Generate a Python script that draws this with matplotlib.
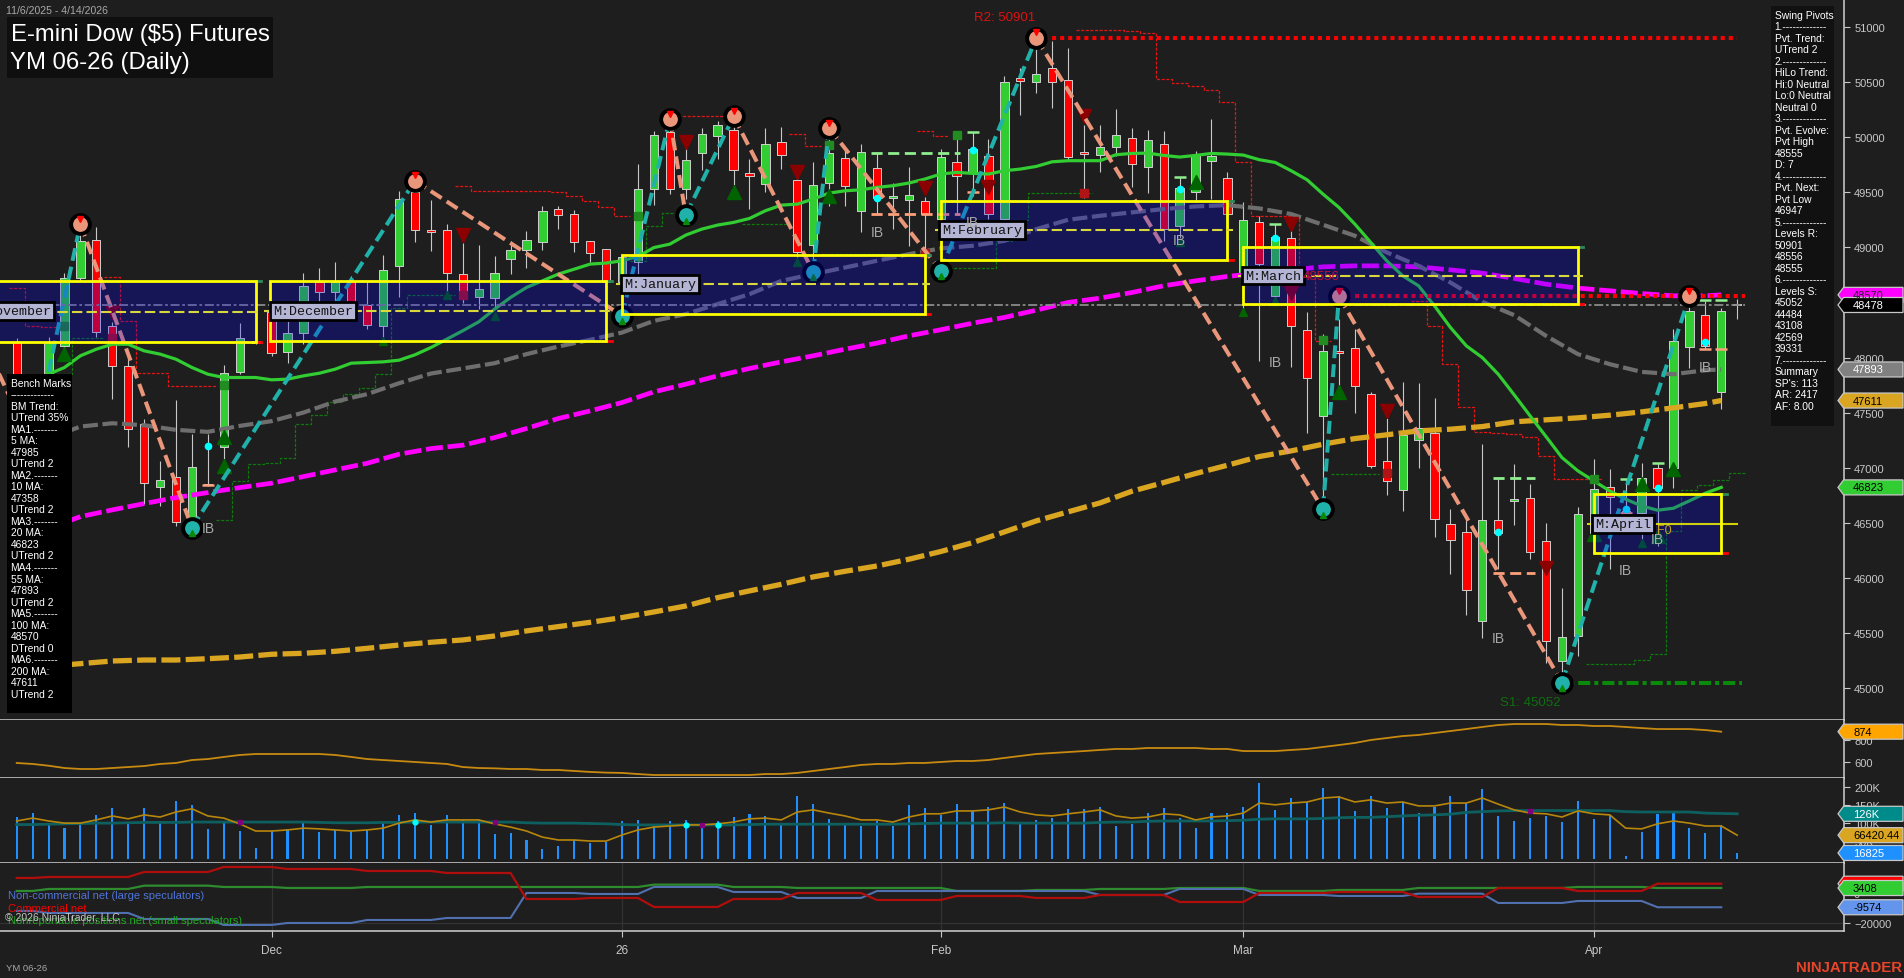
import numpy as np
import matplotlib
matplotlib.use("Agg")
import matplotlib.pyplot as plt
from matplotlib.patches import Rectangle, Polygon

plt.rcParams['font.family'] = ['Liberation Sans', 'DejaVu Sans']

W, H = 1904, 979
BG = "#1E1E1E"

# --- candles, one entry per daily bar ---
opens = [48138,47654,47835,48107,48725,49070,48283,47926,47396,46831,46921,46534,46850,47191,47871,48150,48410,48047,48228,48682,
         48598,48697,48477,48289,48833,49499,49148,49154,48755,48552,48537,48894,48979,49045,49345,49299,49060,48985,48682,48864,
         49529,50050,49529,49856,50014,50062,49675,49572,49953,49608,49021,49584,49811,49333,49717,49445,49433,49417,49257,49777,
         49681,49826,49257,50534,50498,50625,50516,49856,49841,49914,49995,49726,49941,49197,49499,49781,49632,48743,49227,48561,
         49082,48247,47472,48056,48089,47666,47067,46800,47254,47321,46495,46422,45611,46531,46704,46731,46340,45248,45475,46413,
         46831,46600,46594,47003,47003,48098,48383,47684,48490]
closes = [47835,47805,48138,48719,49054,48234,47920,47357,46867,46894,46513,47012,46843,47865,48174,48132,48038,48228,48646,48598,
          48688,48486,48298,48791,49436,49160,49142,48767,48546,48619,48764,48979,49063,49327,49296,49045,48948,48682,48909,49529,
          50020,49529,49790,50029,50110,49705,49650,49935,49841,48961,49563,49856,49560,49862,49448,49463,49472,49306,49817,49644,
          49892,49299,50504,50513,50570,50504,49817,49850,49908,50017,49753,49971,49166,49539,49841,49826,49303,49245,48849,49091,
          48283,47811,48065,48038,47744,47018,46882,47297,47366,46540,46346,45893,46531,46413,46722,46238,45433,45469,46586,46812,
          46737,46594,46909,46821,48147,48419,48107,48425,48478]
highs = [48174,47835,48192,48767,49166,49181,48325,48047,47442,47064,47614,47306,47306,47932,48310,48168,48455,48334,48764,48809,
         48864,48743,48682,48930,49514,49590,49430,49212,49036,49021,48924,49060,49145,49372,49372,49339,49060,48985,48924,49756,
         50059,50225,49953,50083,50150,50165,49802,50080,50092,49741,49771,50029,49899,49938,49853,49584,49726,49454,49892,50056,
         50044,49983,50552,50625,50800,50876,50806,50110,50110,50256,50083,50065,50053,49635,49871,50165,49684,49408,49287,49212,
         49257,48410,48213,48350,48259,47684,47451,47775,47769,47638,46625,46570,47215,46903,47033,46852,46498,45914,46646,47085,
         46988,46897,47048,47042,48259,48516,48516,48455,48531]
lows = [47805,47623,47805,48062,48697,48192,47623,47188,46670,46655,46474,46504,46837,47079,47850,48122,48011,47956,48122,48470,
        48516,48470,48259,48192,48546,49045,48970,48591,48495,48440,48455,48758,48818,48979,49166,48961,48864,48634,48455,48682,
        49387,49481,49439,49705,49802,49566,49348,49505,49711,48909,48894,49378,49378,49136,49303,49166,49015,48939,49166,49303,
        49469,49257,49227,50201,50401,50268,49787,49445,49681,49832,49545,49493,49060,49015,49408,49439,49287,48395,47971,48486,
        47911,47321,46716,47744,47502,47003,46752,46610,47003,46374,46035,45663,45454,46080,46480,46171,45233,45112,45294,46383,
        46080,46588,46353,46292,46821,47902,48077,47533,48350]

# --- moving averages ---
ma_idx = [3] + list(range(4, 107, 2)) + [107]
ma200 = [45212,45224,45248,45257,45257,45269,45284,45309,45318,45336,45363,45393,45418,45439,45475,45521,45560,45599,45642,45693,
         45747,45823,45884,45944,46011,46062,46110,46171,46241,46322,46419,46519,46601,46682,46788,46867,46949,47024,47103,47154,
         47215,47266,47300,47336,47351,47375,47418,47436,47454,47478,47508,47545,47584,47611]
ma100 = [46504,46558,46619,46676,46731,46776,46821,46861,46921,46982,47042,47124,47175,47206,47275,47357,47448,47517,47593,47690,
         47759,47835,47902,47962,48017,48077,48132,48198,48253,48313,48365,48431,48501,48540,48591,48652,48697,48737,48767,48797,
         48824,48833,48833,48824,48797,48767,48719,48667,48631,48607,48582,48561,48561,48570]
ma55 = [47321,47375,47405,47387,47345,47327,47381,47424,47502,47602,47669,47768,47856,47902,47950,48032,48101,48162,48228,48334,
        48395,48486,48576,48697,48758,48818,48879,48939,48991,49015,49060,49166,49251,49287,49318,49348,49372,49384,49354,49303,
        49206,49106,48955,48833,48682,48507,48386,48198,48032,47941,47871,47850,47886,47893]
ma20_start = 2
ma20 = [47850,47911,48017,48077,48122,48122,48062,48032,47986,47911,47850,47820,47820,47820,47799,47805,47835,47859,47896,47950,
        47956,47962,47977,48026,48092,48168,48244,48325,48440,48546,48637,48697,48758,48803,48849,48858,48879,48918,48999,49030,
        49112,49166,49203,49227,49263,49333,49384,49393,49439,49493,49514,49523,49545,49560,49584,49620,49666,49681,49672,49666,
        49696,49711,49735,49777,49787,49787,49787,49841,49853,49856,49835,49820,49835,49853,49847,49838,49796,49771,49696,49614,
        49484,49363,49212,49045,48879,48743,48652,48470,48274,48107,48001,47850,47663,47472,47284,47094,46973,46882,46791,46716,
        46655,46616,46634,46701,46770,46823]

# --- swing pivots ---
swing_idx = [-2,1,4,11,25,38,41,42,45,50,51,58,64,82,83,97,105]
swing_px = [48129,47200,49212,46458,49605,48380,50165,49293,50189,48779,50083,48788,50901,46625,48556,45052,48555]

# --- monthly value areas ---
zone_names = ["M:November","M:December","M:January","M:February","M:March","M:April"]
zone_start = [-10,15.9,38,58,77,99]
zone_end = [15,37,57,76,98,107]
zone_high = [48694,48694,48933,49424,49003,46761]
zone_low = [48144,48153,48395,48888,48486,46226]
zone_mid = [48416,48422,48667,49157,48740,46489]
zone_label_x = [-3.06,15.9,37.9,57.9,76.9,98.9]

# --- stepped trailing stops: (first bar, values) ---
red_steps = [
    (0,[48628,48289,48280]),
    (6,[48728,48334,47865,47865,47744,47744,47744]),
    (28,[49554,49508,49508,49508,49508,49508,49499,49463,49420,49363,49287]),
    (42,[50189,50189,50189]),
    (49,[50026,49923]),
    (57,[50053,50013]),
    (67,[50976,50976,50976,50967,50942,50525,50489,50461,50425,50316,49771,49287,49287,49287,48743,48153]),
    (88,[48516,48283,47947,47548,47330,47321,47306,47284,47109,46903,46903,46903]),
]
green_steps = [
    (3,[47850,48174,48174]),
    (13,[46528,46882,47039,47048,47088,47402,47481,47602,47669,47729,47850,48455,48567,48567,48567]),
    (39,[48879,49197,49309]),
    (46,[49212,49212,49212]),
    (51,[48939,48939,48939,48939,48939,48939]),
    (59,[48809,48809,48809,49060,49251,49490,49490,49490,49490]),
    (83,[46948,46948,46948]),
    (99,[45224,45224,45224,45257,45315,46428,46800,46843,46888,46958]),
]

# --- signal marks ---
tri_dn_idx = [6,28,42,49,57,61,67,80,80,86,96]
tri_dn_px = [48410,49112,49959,49687,49535,49551,50189,48591,49212,47517,46095]
tri_up_idx = [3,13,13,45,51,74,83,99,102,103,104]
tri_up_px = [48032,47018,47281,49499,49469,49590,47690,46398,46852,46383,46988]
tri_small_idx = [23,27,30,49,73,77,79,102]
tri_small_px = [48153,48567,48374,48864,49051,48416,48516,46322]
sq_green_idx = [3,13,39,45,51,59,82,99]
sq_green_px = [48283,47750,49287,50189,49929,50020,48156,46903]
sq_red_idx = [6,28,42,57,67,86]
sq_red_px = [48174,48567,49312,48954,49490,46952]
cyan_idx = [12,54,60,73,79,93,101,103,106]
cyan_px = [47197,49448,49886,49529,49088,46419,46625,46819,48138]
lg_idx = [60,73,79,101,103,105,106,107]
lg_px = [50050,49641,49212,46897,47042,48522,48522,48522]
salmon_idx = [12,60,101,106,107]
salmon_px = [46843,49505,46594,48077,48077]
ib_idx = [12,54,60,73,79,106,93,101,103]
ib_px = [46458,49136,49227,49070,47965,47911,45454,46071,46358]

# --- ATR panel ---
atr = [588,579,563,542,533,533,542,551,560,579,588,615,624,643,661,670,670,670,670,670,
       661,643,624,615,606,597,588,579,551,542,539,533,533,524,524,515,506,500,497,487,
       478,478,478,478,478,478,478,487,487,497,515,533,551,570,579,579,588,588,597,606,
       606,615,634,652,670,679,688,697,707,716,716,725,725,725,725,716,716,697,697,697,
       707,716,734,752,771,798,816,834,844,862,880,898,917,935,944,944,944,935,935,926,
       926,917,907,898,898,898,889,874]

# --- volume panel, thousands ---
volume = [117,128,95,86,98,123,142,100,142,103,162,151,84,100,78,31,78,84,100,75,
          81,78,81,100,123,128,95,123,109,109,70,73,53,28,36,53,45,47,106,109,
          98,106,109,86,106,117,126,120,98,176,153,112,98,92,106,92,151,142,123,153,
          134,145,156,103,109,114,140,140,145,92,98,128,142,114,86,128,128,145,212,137,
          170,159,198,176,134,176,142,159,128,145,176,156,195,120,106,114,120,103,162,112,
          123,8,75,126,128,86,73,95,17]
vol_avg = [106,114,106,100,100,109,120,112,123,117,131,140,120,114,98,78,78,81,86,84,
           81,78,81,86,100,109,103,109,109,109,98,89,78,61,53,53,50,50,67,81,
           89,92,95,95,98,103,112,114,109,131,137,128,120,109,109,103,117,126,126,134,
           134,137,145,131,123,120,126,131,137,120,114,117,126,123,109,117,120,128,156,151,
           156,159,170,173,159,165,156,159,148,148,156,156,170,153,137,128,126,117,134,126,
           123,86,84,98,106,100,92,92,66.42]
vol_slow = [96,96,97,98,99,100,100,101,102,102,102,103,103,103,103,103,103,103,103,102,
            101,101,101,102,102,103,103,103,103,103,103,103,101,100,100,100,99,98,96,95,
            95,95,95,95,95,95,96,97,97,97,97,97,97,97,97,97,98,99,100,100,
            100,100,101,100,100,100,100,100,102,103,103,105,106,106,106,106,107,108,111,112,
            112,112,113,115,116,116,118,120,122,123,125,130,132,134,135,135,135,135,135,135,
            135,132,131,131,131,131,128,127,126]
vol_cyan_idx = [25,42,44]
vol_purple_idx = [14,30,43,95]

# --- weekly commitment of traders net positions ---
cot_weeks = [2,6,5,4,5,5,5,4,4,5,4,5,5,5,4,5,5,5,5,5,5,5,5]
cot_comm = [10176,10850,14224,17600,16248,14900,13549,-4000,-3320,-9390,-4000,55,-4670,-1970,-3320,-1300,-6020,55,730,-2640,3430,1400,6316]
cot_large = [-12090,-13440,-17490,-21535,-20190,-18160,-16810,55,-620,4100,730,-3320,1400,1400,1400,-1300,2750,-1300,-1970,-400,-6690,-5340,-9574]
cot_small = [1400,2750,5000,4100,3430,4100,4100,4100,4100,5680,4100,3430,3430,1400,2080,2750,3430,1400,2080,3430,3430,4100,3408]

month_idx = [16,38,58,77,99]
month_lbl = ["Dec","26","Feb","Mar","Apr"]

swing_text = ["Swing Pivots","1.-------------","Pvt. Trend:","UTrend 2","2.-------------","HiLo Trend:","Hi:0 Neutral",
              "Lo:0 Neutral","Neutral 0","3.-------------","Pvt. Evolve:","Pvt High","48555","D: 7","4.-------------",
              "Pvt. Next:","Pvt Low","46947","5.-------------","Levels R:","50901","48556","48555","6.-------------",
              "Levels S:","45052","44484","43108","42569","39331","7.-------------","Summary","SP's: 113","AR: 2417","AF: 8.00"]
bench_text = ["Bench Marks","-------------","BM Trend:","UTrend 35%","MA1.-------","5 MA:","47985","UTrend 2","MA2.-------",
              "10 MA:","47358","UTrend 2","MA3.-------","20 MA:","46823","UTrend 2","MA4.-------","55 MA:","47893","UTrend 2",
              "MA5.-------","100 MA:","48570","DTrend 0","MA6.-------","200 MA:","47611","UTrend 2"]

fig = plt.figure(figsize=(W / 100, H / 100), dpi=100, facecolor=BG)
AXIS_X = 1844.4
LINE = "#D0D0D0"
TICK = "#C8C8C8"


def fx(x):
    return x / W


def fy(y):
    return 1 - y / H


def make_ax(top, bot, ylim):
    ax = fig.add_axes([0, fy(bot), fx(AXIS_X), (bot - top) / H], facecolor=BG)
    ax.set_xlim(-1.048, 114.73)
    ax.set_ylim(*ylim)
    for s in ["top", "left"]:
        ax.spines[s].set_visible(False)
    for s in ["right", "bottom"]:
        ax.spines[s].set_color(LINE)
        ax.spines[s].set_linewidth(1.1)
    ax.yaxis.tick_right()
    ax.tick_params(axis="y", colors=TICK, length=4.5, width=0.8, labelsize=8, pad=2.5)
    ax.set_xticks([])
    return ax


ax = make_ax(0, 721.3, (44710, 51254))
ax_atr = make_ax(721.3, 779.3, (448, 978))
ax_vol = make_ax(779.3, 864.3, (-12, 225))
ax_cot = make_ax(864.3, 932.3, (-25803, 20080))

ax.set_yticks(np.arange(45000, 51001, 500))
ax_atr.set_yticks([600, 800])
ax_vol.set_yticks([50, 100, 150, 200])
ax_vol.set_yticklabels(["50K", "100K", "150K", "200K"])
ax_cot.set_yticks([-20000, 0])

# candles
bars = np.arange(len(opens))
ax.vlines(bars, lows, highs, color="#C8C8C8", lw=0.8, zorder=2)
for i in bars:
    up = closes[i] >= opens[i]
    lo, hi = min(opens[i], closes[i]), max(opens[i], closes[i])
    ax.add_patch(Rectangle((i - 0.26, lo), 0.52, max(hi - lo, 12), facecolor="#32CD32" if up else "#FF0000",
                           edgecolor="#D0D0D0", lw=0.7, zorder=2.5))

# stepped stops
for start, vals in red_steps:
    x = np.arange(start, start + len(vals) + 1) - 0.5
    ax.plot(x, vals + vals[-1:], drawstyle="steps-post", color="#E01515", lw=0.9, ls=(0, (2.5, 1.2)), zorder=3)
for start, vals in green_steps:
    x = np.arange(start, start + len(vals) + 1) - 0.5
    ax.plot(x, vals + vals[-1:], drawstyle="steps-post", color="#0E7A0E", lw=0.9, ls=(0, (2.5, 1.2)), zorder=3)

# moving averages
ax.plot(ma_idx, ma200, color="#DAA520", lw=3.8, ls=(0, (3.6, 1.0)), zorder=4)
ax.plot(ma_idx, ma100, color="#FF00FF", lw=3.4, ls=(0, (3.6, 1.0)), zorder=4)
ax.plot(ma_idx, ma55, color="#6E6E6E", lw=3.0, ls=(0, (3.6, 1.1)), zorder=4)
ax.plot(range(ma20_start, ma20_start + len(ma20)), ma20, color="#32CD32", lw=2.3, zorder=4)

# small marks
ax.plot(tri_dn_idx, tri_dn_px, "v", color="#8B0000", ms=10, zorder=4.2)
ax.plot(tri_up_idx, tri_up_px, "^", color="#006400", ms=10, zorder=4.2)
ax.plot(tri_small_idx, tri_small_px, "^", color="#006400", ms=6, zorder=4.2)
ax.plot(sq_green_idx, sq_green_px, "s", color="#228B22", ms=6, zorder=4.2)
ax.plot(sq_red_idx, sq_red_px, "s", color="#B01515", ms=6, zorder=4.2)
ax.plot(cyan_idx, cyan_px, "o", color="#00FFFF", ms=4.5, zorder=4.6)
ax.plot(lg_idx, lg_px, "_", color="#90EE90", ms=9, mew=1.8, zorder=4.3)
ax.plot(salmon_idx, salmon_px, "_", color="#FFA07A", ms=9, mew=1.8, zorder=4.3)
ax.plot([53.6, 59.2], [49856, 49856], color="#90EE90", lw=2, ls=(0, (4, 2)), zorder=4.3)
ax.plot([53.6, 59.2], [49303, 49303], color="#FFA07A", lw=2, ls=(0, (4, 2)), zorder=4.3)
ax.plot([92.7, 95.3], [46906, 46906], color="#90EE90", lw=2, ls=(0, (4, 2)), zorder=4.3)
ax.plot([92.7, 95.3], [46044, 46044], color="#FFA07A", lw=2, ls=(0, (4, 2)), zorder=4.3)

# swing legs and pivots
for k in range(len(swing_idx) - 1):
    col = "#E9967A" if swing_px[k + 1] < swing_px[k] else "#20B2AA"
    ax.plot(swing_idx[k:k + 2], swing_px[k:k + 2], color=col, lw=2.9, ls=(0, (3.2, 1.5)), zorder=5)
for k in range(2, len(swing_idx)):
    high = swing_px[k] > swing_px[k - 1]
    ax.plot(swing_idx[k], swing_px[k], "o", ms=13.5, mfc="#E9967A" if high else "#20B2AA", mec="black", mew=2.8, zorder=5.2)
    ax.plot(swing_idx[k], swing_px[k] + (50 if high else -50), "v" if high else "^",
            color="#FF0000" if high else "#0A8A0A", ms=4.5, zorder=5.3)

# key levels
ax.plot([64, 108], [50901, 50901], color="#FF0000", lw=2.9, ls=(0, (1, 1)), zorder=5)
ax.plot([83, 108.5], [48556, 48556], color="#FF0000", lw=2.9, ls=(0, (1, 1)), zorder=5)
ax.plot([96.5, 108.3], [45052, 45052], color="#0A8A0A", lw=2.9, ls=(0, (3, 1, 1, 1)), zorder=5)
ax.plot([-2, 108.5], [48478, 48478], color="#8A8A8A", lw=1.3, ls=(0, (5, 1.5, 1.5, 1.5)), zorder=5)

# value areas go over everything drawn so far
for n in range(len(zone_names)):
    s, e, hi, lo, mid = zone_start[n], zone_end[n], zone_high[n], zone_low[n], zone_mid[n]
    ax.add_patch(Rectangle((s, lo), e - s, hi - lo, facecolor=(0, 0, 1, 0.25), edgecolor="none", zorder=6))
    ax.add_patch(Rectangle((s, lo), e - s, hi - lo, facecolor="none", edgecolor="#FFFF00", lw=2, zorder=7))
    ax.plot([e, e + 0.35], [lo, lo], color="#FF0000", lw=2, zorder=6.5)
    ax.plot([e, e + 0.35], [hi, hi], color="#2E8B57", lw=2, zorder=6.5)
    if n == 5:
        ax.plot([s - 0.35, e + 1], [mid, mid], color="#FFFF00", lw=1.5, alpha=0.8, zorder=7)
    else:
        ax.plot([s - 0.35, e + 0.35], [mid, mid], color="#D8D83C", lw=1.5, ls=(0, (5, 2)), zorder=7)
    ax.text(zone_label_x[n] + 0.2, mid + 5, zone_names[n], family="Liberation Mono", fontsize=9.6, color="#141414",
            ha="left", va="center", zorder=8, clip_on=True,
            bbox=dict(boxstyle="square,pad=0.22", facecolor="#B4B4D4", edgecolor="black", lw=2))

for i, p in zip(ib_idx, ib_px):
    ax.text(i, p, "IB", color="#A8A8A8", fontsize=10, ha="center", va="center", zorder=9)
ax.text(103.4, 46434, "F0", color="#C8A020", fontsize=9, ha="center", va="center", zorder=9)
ax.text(62, 51088, "R2: 50901", color="#E01010", fontsize=9.5, ha="center", va="center", zorder=9)
ax.text(81.9, 48743, "48556", color="#C0103C", fontsize=9.5, ha="center", va="center", zorder=9)
ax.text(95, 44879, "S1: 45052", color="#0F6E0F", fontsize=9.5, ha="center", va="center", zorder=9)

# ATR
ax_atr.plot(range(len(atr)), atr, color="#C88A10", lw=1.3)

# volume
ax_vol.bar(range(len(volume)), volume, width=0.13, color="#1E90FF", zorder=2)
ax_vol.plot(range(len(vol_slow)), vol_slow, color="#0E6060", lw=2, zorder=3)
ax_vol.plot(range(len(vol_avg)), vol_avg, color="#B8860B", lw=1.2, zorder=3.5)
ax_vol.plot(vol_cyan_idx, [vol_slow[i] for i in vol_cyan_idx], "o", color="#00FFFF", ms=3.5, zorder=4)
ax_vol.plot(vol_purple_idx, [vol_slow[i] for i in vol_purple_idx], "s", color="#800080", ms=3, zorder=4)

# COT
cot_x = np.arange(sum(cot_weeks))
ax_cot.axhline(-20000, color="#333333", lw=0.9, zorder=1)
for m in month_idx:
    ax_cot.axvline(m, color="#333333", lw=0.9, zorder=1)
ax_cot.plot(cot_x, np.repeat(cot_small, cot_weeks), color="#2E8B2E", lw=1.6, zorder=3)
ax_cot.plot(cot_x, np.repeat(cot_large, cot_weeks), color="#5070B0", lw=1.5, zorder=3)
ax_cot.plot(cot_x, np.repeat(cot_comm, cot_weeks), color="#B00D0D", lw=1.6, zorder=3.2)

# month ticks under the last panel
ax_cot.set_xticks(month_idx)
ax_cot.set_xticklabels(month_lbl)
ax_cot.tick_params(axis="x", colors=TICK, length=4.5, width=0.8, labelsize=8.5, pad=5)

fig.text(fx(8), fy(896), "Non-commercial net (large speculators)", color="#4F74D9", fontsize=8, va="center", zorder=6)
fig.text(fx(8), fy(909), "Commercial net", color="#FF0000", fontsize=8, va="center", zorder=6)
fig.text(fx(8), fy(921), "Nonreportable positions net (small speculators)", color="#22AA22", fontsize=8, va="center", zorder=6)
fig.text(fx(5), fy(918), "\u00a9 2026 NinjaTrader, LLC", color="#C4C4C4", fontsize=7.5, va="center", zorder=6.5)
fig.text(fx(6), fy(969), "YM 06-26", color="#A8A8A8", fontsize=6.8, va="center", zorder=6)
fig.text(fx(1902), fy(968), "NINJATRADER", color="#E8452A", fontsize=10.8, fontweight="bold", ha="right", va="center", zorder=6)

# title block
fig.text(fx(6), fy(11), "11/6/2025 - 4/14/2026", color="#A8A8A8", fontsize=7.6, va="center", zorder=6)
fig.add_artist(Rectangle((fx(7), fy(79)), 266 / W, 61 / H, transform=fig.transFigure, facecolor="#0F0F0F", edgecolor="none", zorder=5))
fig.text(fx(11), fy(35), "E-mini Dow ($5) Futures", color="white", fontsize=17.2, va="center", zorder=6)
fig.text(fx(10), fy(63), "YM 06-26 (Daily)", color="white", fontsize=17.2, va="center", zorder=6)

# info panels
fig.add_artist(Rectangle((fx(1771), fy(427)), 63 / W, 420 / H, transform=fig.transFigure, facecolor="#111111", edgecolor="none", zorder=5))
for n, line in enumerate(swing_text):
    fig.text(fx(1774.6), fy(15.7 + 11.5 * n), line, color="white", fontsize=7.4, va="center", zorder=6)
fig.add_artist(Rectangle((fx(7), fy(714)), 65 / W, 339 / H, transform=fig.transFigure, facecolor="black", edgecolor="none", zorder=5))
for n, line in enumerate(bench_text):
    fig.text(fx(10.6), fy(383.7 + 11.52 * n), line, color="white", fontsize=7.4, va="center", zorder=6)


def price_tag(axis, value, label, fc, tc):
    # value tag hanging off the right axis
    y = H - axis.transData.transform((0, value))[1]
    pts = [(1838, y), (1843.6, y - 7.5), (1903, y - 7.5), (1903, y + 7.5), (1843.6, y + 7.5)]
    fig.add_artist(Polygon([(fx(a), fy(b)) for a, b in pts], closed=True, transform=fig.transFigure,
                           facecolor=fc, edgecolor="#C8C8C8", lw=0.9, zorder=5))
    fig.text(fx(1853), fy(y), label, color=tc, fontsize=8, va="center", zorder=6)


price_tag(ax, 48570, "48570", "#FF00FF", "#202020")
price_tag(ax, 48478, "48478", "black", "white")
price_tag(ax, 47893, "47893", "#808080", "white")
price_tag(ax, 47611, "47611", "#DAA520", "black")
price_tag(ax, 46823, "46823", "#32CD32", "black")
price_tag(ax_atr, 874, "874", "#FFA500", "black")
price_tag(ax_vol, 126, "126K", "#008B8B", "white")
price_tag(ax_vol, 66.42, "66420.44", "#DAA520", "black")
price_tag(ax_vol, 16.825, "16825", "#1E90FF", "white")
price_tag(ax_cot, 6316, "", "#FF0000", "white")
price_tag(ax_cot, 3408, "3408", "#32CD32", "black")
price_tag(ax_cot, -9574, "-9574", "#6495ED", "black")

fig.savefig("out.png", dpi=100, facecolor=BG)
